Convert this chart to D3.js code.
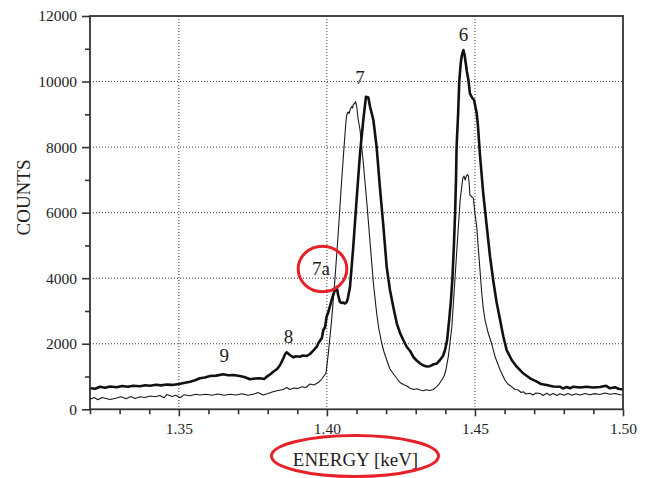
<!DOCTYPE html>
<html>
<head>
<meta charset="utf-8">
<script src="https://cdn.jsdelivr.net/npm/d3@7"></script>
<style>
  html, body { margin: 0; padding: 0; background: #fff; }
  svg { display: block; }
  text { font-family: "Liberation Serif", "Times New Roman", serif; fill: #1e1e1e; }
</style>
</head>
<body>
<svg id="chart" width="650" height="478"></svg>
<script>
// Spectrum 1 (bold trace): energy [keV] and counts
const energyBold = [
  1.3200, 1.3217, 1.3234, 1.3251, 1.3268, 1.3290, 1.3308, 1.3328, 1.3346, 1.3369,
  1.3386, 1.3403, 1.3423, 1.3440, 1.3459, 1.3477, 1.3501, 1.3517, 1.3538, 1.3555,
  1.3571, 1.3588, 1.3605, 1.3626, 1.3650, 1.3666, 1.3684, 1.3700, 1.3718, 1.3730,
  1.3740, 1.3757, 1.3774, 1.3788, 1.3797, 1.3808, 1.3819, 1.3832, 1.3842, 1.3853,
  1.3859, 1.3864, 1.3869, 1.3875, 1.3887, 1.3896, 1.3909, 1.3919, 1.3932, 1.3943,
  1.3954, 1.3966, 1.3971, 1.3983, 1.3988, 1.3994, 1.3999, 1.4005, 1.4016, 1.4027,
  1.4033, 1.4038, 1.4044, 1.4049, 1.4054, 1.4061, 1.4067, 1.4071, 1.4078, 1.4089,
  1.4101, 1.4112, 1.4123, 1.4132, 1.4140, 1.4146, 1.4157, 1.4168, 1.4179, 1.4191,
  1.4202, 1.4213, 1.4225, 1.4236, 1.4247, 1.4258, 1.4270, 1.4281, 1.4292, 1.4303,
  1.4314, 1.4326, 1.4337, 1.4348, 1.4359, 1.4371, 1.4382, 1.4392, 1.4399, 1.4406,
  1.4413, 1.4419, 1.4424, 1.4429, 1.4433, 1.4436, 1.4438, 1.4443, 1.4447, 1.4452,
  1.4456, 1.4461, 1.4465, 1.4469, 1.4473, 1.4478, 1.4483, 1.4490, 1.4497, 1.4506,
  1.4510, 1.4517, 1.4528, 1.4540, 1.4551, 1.4562, 1.4573, 1.4585, 1.4596, 1.4607,
  1.4624, 1.4641, 1.4663, 1.4686, 1.4709, 1.4723, 1.4742, 1.4764, 1.4787, 1.4797,
  1.4810, 1.4821, 1.4832, 1.4855, 1.4877, 1.4899, 1.4922, 1.4943, 1.4956, 1.4973,
  1.4987, 1.5000
];
const countsBold = [
  640, 625, 690, 656, 696, 674, 711, 686, 720, 702,
  735, 720, 747, 729, 754, 744, 772, 802, 842, 885,
  946, 970, 1016, 1028, 1068, 1040, 1046, 1022, 995, 955,
  915, 940, 946, 924, 995, 1062, 1147, 1230, 1352, 1556,
  1687, 1739, 1702, 1657, 1587, 1620, 1605, 1641, 1626, 1687,
  1788, 1910, 2014, 2175, 2419, 2511, 2825, 2969, 3335, 3640,
  3731, 3487, 3274, 3243, 3258, 3228, 3274, 3396, 3731, 4952,
  6477, 7820, 8827, 9537, 9513, 9223, 8827, 8003, 6782, 5562,
  4342, 3640, 3091, 2624, 2328, 2114, 1901, 1779, 1596, 1489,
  1403, 1336, 1306, 1315, 1367, 1397, 1504, 1626, 1809, 2114,
  2725, 3335, 4006, 5013, 5989, 6996, 8003, 8979, 10001, 10566,
  10810, 10962, 10810, 10557, 10291, 10047, 9641, 9513, 9437, 9031,
  8674, 7759, 6590, 5571, 4656, 3914, 3274, 2725, 2215, 1809,
  1504, 1300, 1098, 946, 842, 772, 741, 696, 690, 635,
  680, 641, 690, 665, 690, 665, 680, 717, 641, 674,
  619, 610
];

// Spectrum 2 (thin trace): energy [keV] and counts
const energyThin = [
  1.3200, 1.3214, 1.3227, 1.3241, 1.3254, 1.3268, 1.3290, 1.3305, 1.3322, 1.3338,
  1.3352, 1.3369, 1.3386, 1.3403, 1.3420, 1.3436, 1.3450, 1.3460, 1.3477, 1.3490,
  1.3504, 1.3517, 1.3538, 1.3558, 1.3571, 1.3592, 1.3612, 1.3632, 1.3653, 1.3673,
  1.3693, 1.3713, 1.3734, 1.3754, 1.3767, 1.3784, 1.3801, 1.3818, 1.3835, 1.3852,
  1.3865, 1.3875, 1.3889, 1.3902, 1.3916, 1.3929, 1.3943, 1.3956, 1.3967, 1.3977,
  1.3984, 1.3990, 1.3997, 1.4005, 1.4016, 1.4027, 1.4039, 1.4050, 1.4058, 1.4064,
  1.4067, 1.4072, 1.4075, 1.4078, 1.4084, 1.4087, 1.4089, 1.4095, 1.4097, 1.4101,
  1.4105, 1.4112, 1.4123, 1.4135, 1.4146, 1.4157, 1.4168, 1.4175, 1.4185, 1.4193,
  1.4202, 1.4213, 1.4225, 1.4235, 1.4247, 1.4258, 1.4270, 1.4281, 1.4292, 1.4304,
  1.4314, 1.4326, 1.4335, 1.4348, 1.4359, 1.4371, 1.4379, 1.4388, 1.4396, 1.4402,
  1.4410, 1.4416, 1.4422, 1.4433, 1.4444, 1.4450, 1.4459, 1.4463, 1.4467, 1.4470,
  1.4474, 1.4478, 1.4481, 1.4483, 1.4495, 1.4500, 1.4506, 1.4511, 1.4517, 1.4523,
  1.4528, 1.4534, 1.4545, 1.4556, 1.4568, 1.4585, 1.4601, 1.4611, 1.4624, 1.4635,
  1.4646, 1.4656, 1.4663, 1.4672, 1.4686, 1.4696, 1.4706, 1.4720, 1.4730, 1.4743,
  1.4753, 1.4764, 1.4777, 1.4787, 1.4801, 1.4814, 1.4828, 1.4841, 1.4855, 1.4872,
  1.4889, 1.4905, 1.4922, 1.4939, 1.4956, 1.4973, 1.4990, 1.5000
];
const countsThin = [
  305, 360, 290, 360, 330, 299, 345, 381, 320, 391,
  330, 384, 360, 406, 381, 421, 351, 452, 391, 430,
  351, 442, 412, 458, 436, 458, 430, 467, 427, 461,
  436, 473, 430, 467, 510, 436, 482, 537, 571, 604,
  665, 604, 650, 632, 686, 665, 772, 741, 793, 863,
  940, 1016, 1098, 1718, 2725, 3945, 5471, 6996, 8012, 8735,
  8979, 9071, 9025, 9132, 9238, 9193, 9300, 9345, 9391, 9223,
  8888, 8522, 7515, 6294, 5074, 3853, 2938, 2481, 2023, 1748,
  1504, 1230, 1077, 955, 818, 757, 711, 641, 604, 625,
  589, 564, 595, 574, 604, 690, 772, 894, 1016, 1199,
  1605, 2053, 2520, 4046, 5571, 6386, 7048, 7118, 6996, 7088,
  7164, 7118, 6844, 6539, 6438, 5980, 5571, 4961, 4250, 3539,
  3091, 2725, 2319, 2014, 1605, 1199, 894, 772, 690, 604,
  589, 513, 537, 467, 488, 436, 497, 482, 421, 491,
  430, 482, 421, 473, 427, 482, 430, 473, 436, 482,
  442, 479, 452, 497, 461, 482, 442, 436
];

// Axis ticks
const xMajorTicks = [1.35, 1.40, 1.45, 1.50];
const xMinorTicks = [1.32, 1.33, 1.34, 1.36, 1.37, 1.38, 1.39, 1.41, 1.42, 1.43, 1.44, 1.46, 1.47, 1.48, 1.49];
const yMajorTicks = [0, 2000, 4000, 6000, 8000, 10000, 12000];
const yMinorTicks = [1000, 3000, 5000, 7000, 9000, 11000];

// Line identifications (label anchor: energy, counts at text baseline)
const peakNames = ["6", "7", "7a", "8", "9"];
const peakEnergy = [1.4461, 1.4112, 1.3980, 1.3870, 1.3653];
const peakCounts = [11250, 9925, 4100, 2025, 1455];

const svg = d3.select("#chart");
const plot = { left: 90, right: 623, top: 16, bottom: 409.3 };

const x = d3.scaleLinear().domain([1.32, 1.50]).range([plot.left, plot.right]);
const y = d3.scaleLinear().domain([0, 12000]).range([plot.bottom, plot.top]);

// dotted grid
const grid = svg.append("g").attr("stroke", "#3a3a3a").attr("stroke-width", 1)
  .attr("stroke-dasharray", "1,2").attr("fill", "none");
grid.selectAll("line.gx").data(xMajorTicks.filter(d => d < 1.5)).join("line")
  .attr("x1", d => x(d)).attr("x2", d => x(d))
  .attr("y1", plot.top).attr("y2", plot.bottom);
grid.selectAll("line.gy").data(yMajorTicks.filter(d => d > 0 && d < 12000)).join("line")
  .attr("x1", plot.left).attr("x2", plot.right)
  .attr("y1", d => y(d)).attr("y2", d => y(d));

// spectra
const line = d3.line().x(d => x(d[0])).y(d => y(d[1]));
const thinData = energyThin.map((e, i) => [e, countsThin[i]]);
const boldData = energyBold.map((e, i) => [e, countsBold[i]]);

svg.append("path").datum(thinData).attr("d", line)
  .attr("fill", "none").attr("stroke", "#1a1a1a").attr("stroke-width", 1.1)
  .attr("stroke-linejoin", "round");
svg.append("path").datum(boldData).attr("d", line)
  .attr("fill", "none").attr("stroke", "#111").attr("stroke-width", 2.6)
  .attr("stroke-linejoin", "round");

// axes
const fontSize = "15.5px";
svg.append("g").attr("transform", `translate(${plot.left},0)`)
  .call(d3.axisLeft(y).tickValues(yMajorTicks).tickSize(8).tickPadding(5).tickFormat(d3.format("d")));
svg.append("g").attr("transform", `translate(${plot.left},0)`)
  .call(d3.axisLeft(y).tickValues(yMinorTicks).tickSize(5).tickFormat(""));
const xAxis = svg.append("g").attr("transform", `translate(0,${plot.bottom})`)
  .call(d3.axisBottom(x).tickValues(xMajorTicks).tickSize(7).tickFormat(d3.format(".2f")));
svg.append("g").attr("transform", `translate(0,${plot.bottom})`)
  .call(d3.axisBottom(x).tickValues(xMinorTicks).tickSize(5).tickFormat(""));

svg.selectAll(".domain").remove();
svg.selectAll(".tick line").attr("stroke", "#333").attr("stroke-width", 1.6);
svg.selectAll(".tick text").attr("font-size", fontSize);
xAxis.selectAll(".tick text").attr("dy", null).attr("y", 24.7);

// frame
svg.append("rect")
  .attr("x", plot.left).attr("y", plot.top)
  .attr("width", plot.right - plot.left).attr("height", plot.bottom - plot.top)
  .attr("fill", "none").attr("stroke", "#333").attr("stroke-width", 1.8);

// axis titles
svg.append("text")
  .attr("transform", "translate(30,197.5) rotate(-90)")
  .attr("text-anchor", "middle").attr("font-size", "19px")
  .text("COUNTS");
svg.append("text")
  .attr("x", 355.5).attr("y", 465.7)
  .attr("text-anchor", "middle").attr("font-size", "19px")
  .text("ENERGY [keV]");

// peak labels
svg.append("g").selectAll("text").data(peakNames).join("text")
  .attr("x", (d, i) => x(peakEnergy[i]))
  .attr("y", (d, i) => y(peakCounts[i]))
  .attr("text-anchor", "middle").attr("font-size", "19px")
  .text(d => d);

// red highlight rings
const ring = svg.append("g").attr("fill", "none").attr("stroke", "#e52229").attr("stroke-width", 3);
ring.append("ellipse").attr("cx", 322.5).attr("cy", 269).attr("rx", 24.3).attr("ry", 22.7);
ring.append("ellipse").attr("cx", 355).attr("cy", 456).attr("rx", 83.5).attr("ry", 20.5);
</script>
</body>
</html>
